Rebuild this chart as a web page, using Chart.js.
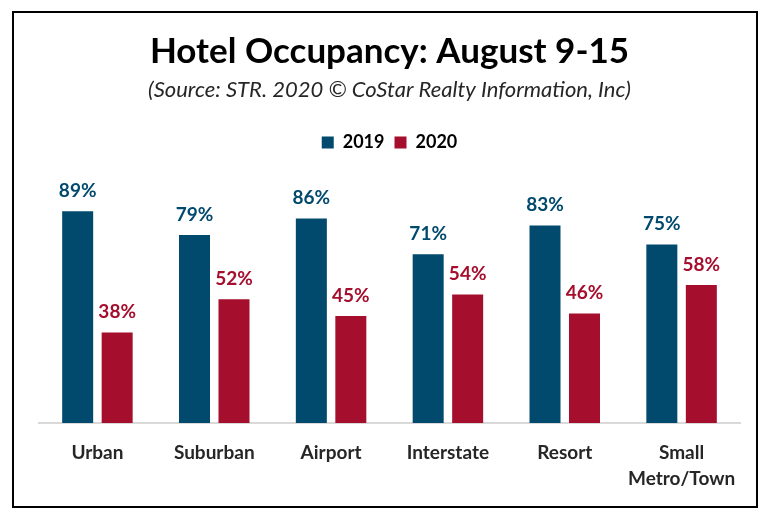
<!DOCTYPE html>
<html>
<head>
<meta charset="utf-8">
<script src="https://cdn.jsdelivr.net/npm/chart.js@4"></script>
<style>
  html, body { margin: 0; padding: 0; background: #fff; }
  #wrap { width: 782px; height: 516px; position: relative; }
</style>
</head>
<body>
<div id="wrap"><canvas id="chart"></canvas></div>
<script>
// data
const categories = ["Urban", "Suburban", "Airport", "Interstate", "Resort", ["Small", "Metro/Town"]];
const occ2019 = [89, 79, 86, 71, 83, 75];
const occ2020 = [38, 52, 45, 54, 46, 58];
const seriesNames = ["2019", "2020"];

const BLUE = "#014A6D";
const RED = "#A50E2D";
const FONT = "Lato, 'Open Sans', sans-serif";

// frame around the whole picture
const framePlugin = {
  id: "frame",
  beforeDraw(chart) {
    const c = chart.ctx;
    c.save();
    c.fillStyle = "#fff";
    c.fillRect(0, 0, chart.width, chart.height);
    c.strokeStyle = "#000";
    c.lineWidth = 2;
    c.strokeRect(13, 12, 744, 495);
    c.restore();
  }
};

// value labels above bars
const labelPlugin = {
  id: "valueLabels",
  afterDatasetsDraw(chart) {
    const c = chart.ctx;
    c.save();
    c.font = "bold 19px " + FONT;
    c.textAlign = "center";
    c.textBaseline = "bottom";
    chart.data.datasets.forEach((ds, i) => {
      const meta = chart.getDatasetMeta(i);
      c.fillStyle = ds.backgroundColor;
      meta.data.forEach((bar, j) => {
        c.fillText(ds.data[j] + "%", bar.x, bar.y - 11);
      });
    });
    c.restore();
  }
};

new Chart(document.getElementById("chart"), {
  type: "bar",
  data: {
    labels: categories,
    datasets: [
      { label: seriesNames[0], data: occ2019, backgroundColor: BLUE },
      { label: seriesNames[1], data: occ2020, backgroundColor: RED }
    ]
  },
  options: {
    responsive: true,
    maintainAspectRatio: false,
    animation: false,
    layout: { padding: { left: 39, right: 42, top: 31, bottom: 15 } },
    datasets: { bar: { categoryPercentage: 0.676, barPercentage: 0.785 } },
    plugins: {
      title: {
        display: true,
        text: "Hotel Occupancy: August 9-15",
        color: "#000",
        font: { family: FONT, size: 35, weight: "bold" },
        padding: { top: 0, bottom: 4 }
      },
      subtitle: {
        display: true,
        text: "(Source: STR. 2020 © CoStar Realty Information, Inc)",
        color: "#262626",
        font: { family: FONT, size: 22, style: "italic" },
        padding: { top: 0, bottom: 20 }
      },
      legend: {
        display: true,
        labels: {
          color: "#000",
          boxWidth: 12,
          boxHeight: 12,
          padding: 10,
          font: { family: FONT, size: 18, weight: "bold" }
        }
      },
      tooltip: { enabled: false }
    },
    scales: {
      x: {
        grid: { display: false },
        border: { color: "#D9D9D9", width: 2 },
        ticks: {
          color: "#262626",
          padding: 9,
          maxRotation: 0,
          minRotation: 0,
          autoSkip: false,
          font: { family: FONT, size: 19, weight: "bold", lineHeight: 1.37 }
        }
      },
      y: {
        display: false,
        min: 0,
        max: 110
      }
    }
  },
  plugins: [framePlugin, labelPlugin]
});
</script>
</body>
</html>
